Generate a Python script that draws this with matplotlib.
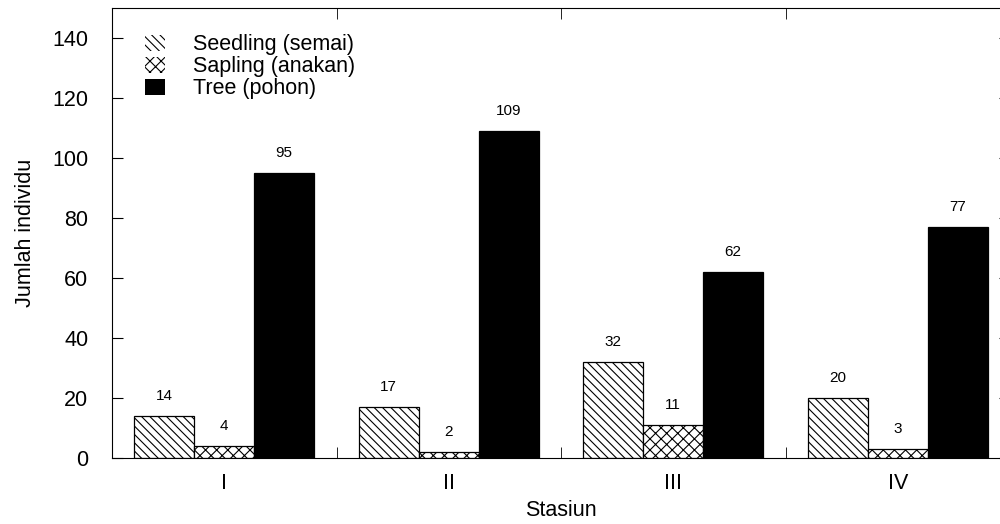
import numpy as np
import matplotlib.pyplot as plt
from matplotlib.patches import Patch

plt.rcParams['font.family'] = ['Liberation Sans', 'DejaVu Sans']
plt.rcParams['hatch.linewidth'] = 0.8

# data
stations = ['I', 'II', 'III', 'IV']
seedling = [14, 17, 32, 20]
sapling = [4, 2, 11, 3]
tree = [95, 109, 62, 77]
labels = ['Seedling (semai)', 'Sapling (anakan)', 'Tree (pohon)']

fig = plt.figure(figsize=(10, 5.24), dpi=100)
ax = fig.add_axes([0.112, 0.126, 0.898, 0.8589])

x = np.arange(len(stations))
w = 0.267

b1 = ax.bar(x - w, seedling, w, color='white', edgecolor='black', hatch='\\\\\\\\', linewidth=0.9)
b2 = ax.bar(x, sapling, w, color='white', edgecolor='black', hatch='xxx', linewidth=0.9)
b3 = ax.bar(x + w, tree, w, color='black', edgecolor='black', linewidth=0.9)

# value labels above bars
for bars, vals in [(b1, seedling), (b2, sapling), (b3, tree)]:
    for r, v in zip(bars, vals):
        ax.annotate(str(v), (r.get_x() + r.get_width() / 2, v), xytext=(0, 9),
                    textcoords='offset points', ha='center', va='bottom', fontsize=11)

ax.set_xlim(-0.5, 3.5)
ax.set_ylim(0, 150)
ax.set_yticks(np.arange(0, 141, 20))
ax.set_xticks(x)
ax.set_xticklabels(stations)
ax.set_xticks([0.5, 1.5, 2.5], minor=True)
ax.tick_params(axis='x', which='major', length=0, labelsize=15.5, pad=11)
ax.tick_params(axis='x', which='minor', direction='in', length=8, top=True, bottom=True)
ax.tick_params(axis='y', direction='in', length=8, right=True, labelsize=15.5, pad=17)

ax.set_xlabel('Stasiun', fontsize=15.5, labelpad=4)
ax.set_ylabel('Jumlah individu', fontsize=15.5, labelpad=12)

handles = [Patch(facecolor='white', edgecolor='black', linewidth=0, hatch='\\\\\\\\'),
           Patch(facecolor='white', edgecolor='black', linewidth=0, hatch='xxx'),
           Patch(facecolor='black', edgecolor='black', linewidth=0)]
ax.legend(handles, labels, loc='upper left', bbox_to_anchor=(0.02, 0.975), frameon=False,
          fontsize=15.5, handlelength=0.95, handleheight=0.75, handletextpad=1.3,
          labelspacing=0.05, borderaxespad=0.3)

fig.savefig('out.png', dpi=100)
